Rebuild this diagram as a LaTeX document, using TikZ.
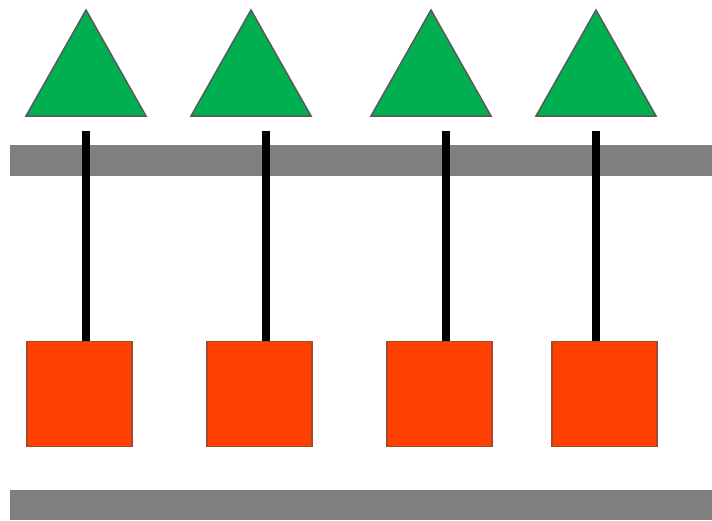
\documentclass[tikz,border=0pt]{standalone}
\usepackage{tikz}
\definecolor{trigreen}{HTML}{00B050}
\definecolor{triedge}{HTML}{595959}
\definecolor{sqfill}{HTML}{FF4000}
\definecolor{sqedge}{HTML}{A0492F}
\definecolor{barcol}{HTML}{808080}
\tikzset{
  tri/.style={fill=trigreen,draw=triedge,line width=1.5pt,line join=miter},
  sqbox/.style={rectangle,fill=sqfill,draw=sqedge,line width=1.5pt,minimum width=105pt,minimum height=105pt,inner sep=0pt,anchor=north west},
  bar/.style={fill=barcol,draw=none},
  rod/.style={line width=8pt,draw=black}
}
\begin{document}
\begin{tikzpicture}[x=1pt,y=-1pt]
\useasboundingbox (0,0) rectangle (712,520);
% gray bars
\fill[bar] (10,145) rectangle (712,176);
\fill[bar] (10,490) rectangle (712,520);
% triangles
\foreach \c in {86,251,431,596}{
  \draw[tri] (\c,10) -- (\c+60,116) -- (\c-60,116) -- cycle;
}
% squares
\node[sqbox] (s1) at (26,340.5) {};
\node[sqbox] (s2) at (206,340.5) {};
\node[sqbox] (s3) at (386,340.5) {};
\node[sqbox] (s4) at (551,340.5) {};
% rod tops
\coordinate (r1) at (86,131);
\coordinate (r2) at (266,131);
\coordinate (r3) at (446,131);
\coordinate (r4) at (596,131);
% rods
\draw[rod] (r1) -- (r1 |- s1.north);
\draw[rod] (r2) -- (r2 |- s2.north);
\draw[rod] (r3) -- (r3 |- s3.north);
\draw[rod] (r4) -- (r4 |- s4.north);
\end{tikzpicture}
\end{document}
